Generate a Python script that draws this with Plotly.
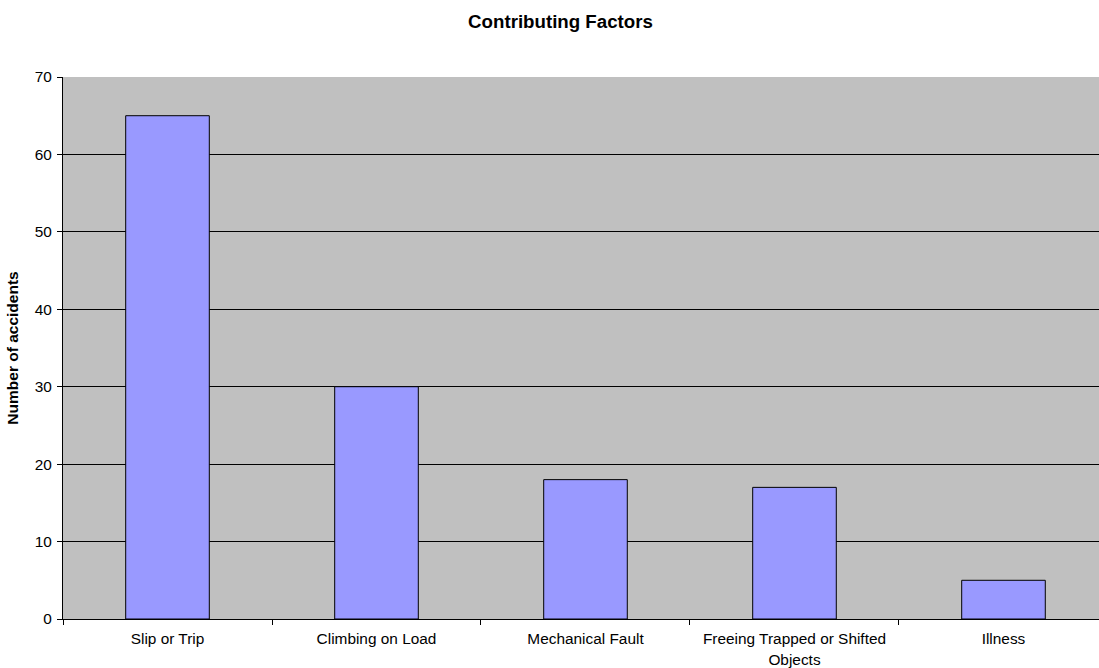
import plotly.graph_objects as go

categories = ["Slip or Trip", "Climbing on Load", "Mechanical Fault",
              "Freeing Trapped or Shifted<br>Objects", "Illness"]
accidents = [65, 30, 18, 17, 5]
y_ticks = [0, 10, 20, 30, 40, 50, 60, 70]

fig = go.Figure(go.Bar(
    x=categories,
    y=accidents,
    marker=dict(color="#9999FF", line=dict(color="#000000", width=1)),
    width=0.4,
))

fig.update_layout(
    width=1099, height=668,
    margin=dict(l=63, r=0, t=77, b=49),
    paper_bgcolor="white",
    plot_bgcolor="#C0C0C0",
    font=dict(family="Liberation Sans, Arial, sans-serif", size=15.4, color="black"),
    title=dict(text="<b>Contributing Factors</b>", x=0.51, xanchor="center",
               y=0.968, yanchor="middle", font=dict(size=18.7)),
    showlegend=False,
    bargap=0.6,
)

fig.update_xaxes(
    range=[-0.5, 4.457],
    tickson="boundaries",
    ticks="outside", ticklen=5, tickcolor="black",
    ticklabelstandoff=6,
    showline=True, linecolor="black", linewidth=1,
    showgrid=False,
    tickfont=dict(size=15.4),
)
fig.update_yaxes(
    range=[0, 70],
    tickvals=y_ticks,
    ticks="outside", ticklen=5, tickcolor="black",
    ticklabelstandoff=2,
    showline=True, linecolor="black", linewidth=1,
    showgrid=True, gridcolor="#000000", gridwidth=1,
    zeroline=False,
    title=dict(text="<b>Number of accidents</b>", font=dict(size=15.5), standoff=12),
    tickfont=dict(size=15.4),
)

fig.write_html("out.html")
